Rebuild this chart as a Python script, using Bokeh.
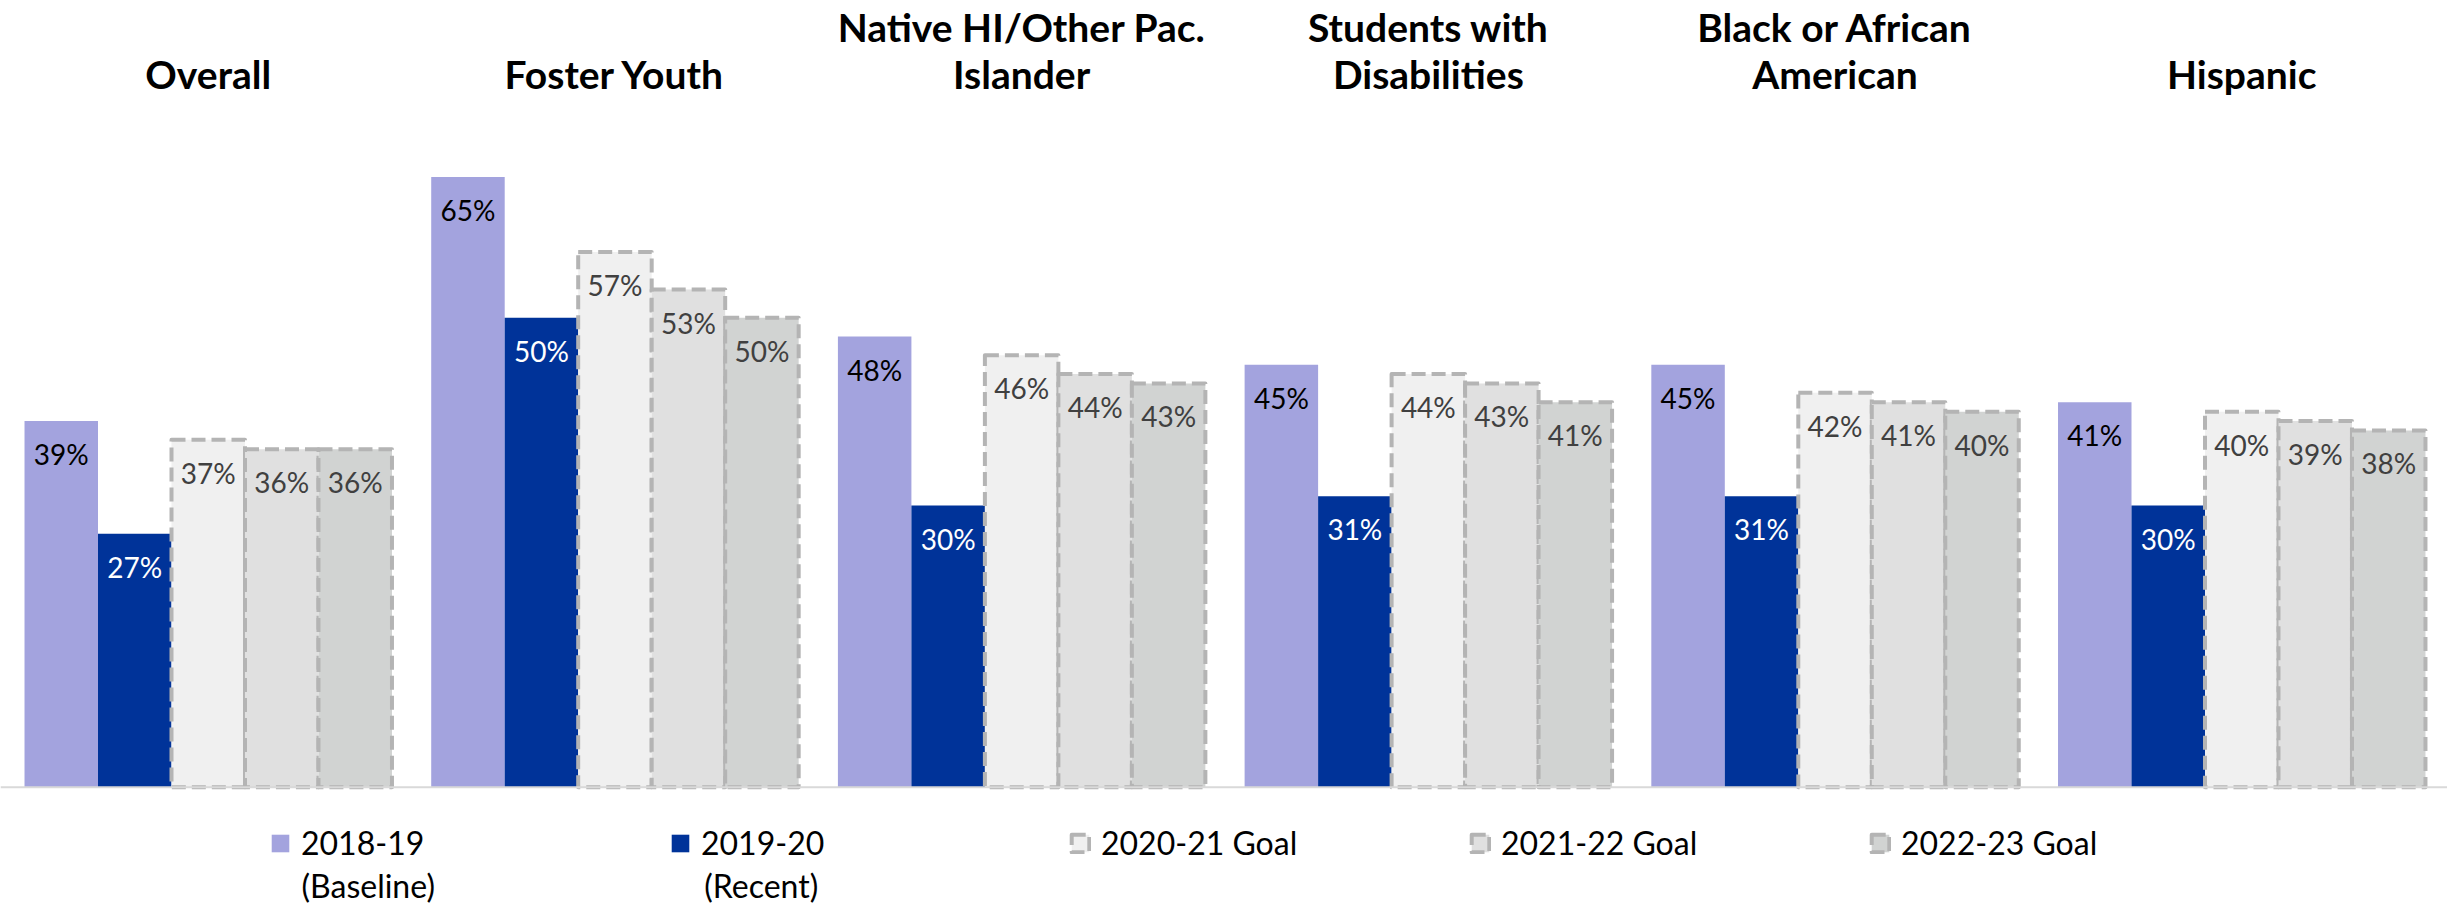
from bokeh.plotting import figure
from bokeh.models import (ColumnDataSource, Range1d, LinearAxis, FixedTicker, Legend,
                          LegendItem, Span, Label)
from bokeh.transform import dodge
from bokeh.core.properties import value
from bokeh.embed import file_html
from bokeh.resources import INLINE

# ---- data ----
categories = ["Overall", "Foster Youth", "Native HI/Other Pac.\nIslander",
              "Students with\nDisabilities", "Black or African\nAmerican", "Hispanic"]
series_names = ["2018-19", "2019-20", "2020-21 Goal", "2021-22 Goal", "2022-23 Goal"]
series_subnames = ["(Baseline)", "(Recent)", "", "", ""]
baseline_1819 = [39, 65, 48, 45, 45, 41]
recent_1920 = [27, 50, 30, 31, 31, 30]
goal_2021 = [37, 57, 46, 44, 42, 40]
goal_2122 = [36, 53, 44, 43, 41, 39]
goal_2223 = [36, 50, 43, 41, 40, 38]

series_values = [baseline_1819, recent_1920, goal_2021, goal_2122, goal_2223]
fills = ["#A3A3DE", "#003399", "#F0F0F0", "#E0E0E0", "#D1D3D2"]
label_colors = ["#000000", "#FFFFFF", "#404040", "#404040", "#404040"]
is_goal = [False, False, True, True, True]

data = dict(idx=list(range(len(categories))))
for k, vals in enumerate(series_values):
    data[f"v{k}"] = vals
    data[f"l{k}"] = [f"{v}%" for v in vals]
src = ColumnDataSource(data)

W = 0.1807
PW, PH = 2447, 905
TOP = 140
BASE = 786.5
PX_PER_PCT = 9.4
X0 = -0.5108
UNIT = 406.7
p = figure(width=PW, height=PH, title=None,
           x_range=Range1d(X0, X0 + PW / UNIT),
           y_range=Range1d(-(PH - BASE) / PX_PER_PCT, (BASE - TOP) / PX_PER_PCT),
           x_axis_location=None, y_axis_location=None,
           toolbar_location=None, output_backend="svg",
           min_border_left=0, min_border_right=0, min_border_top=TOP, min_border_bottom=0,
           outline_line_color=None, background_fill_color="white")
p.xgrid.visible = False
p.ygrid.visible = False

top_axis = LinearAxis(ticker=FixedTicker(ticks=list(range(len(categories)))),
                      major_label_overrides={i: t for i, t in enumerate(categories)},
                      axis_line_color=None, major_tick_line_color=None, minor_tick_line_color=None,
                      major_tick_out=0, major_tick_in=0, minor_tick_out=0, minor_tick_in=0,
                      major_label_standoff=45,
                      major_label_text_font="Lato", major_label_text_font_style="bold",
                      major_label_text_font_size="39px", major_label_text_color="#000000",
                      major_label_text_line_height=1.02)
p.add_layout(top_axis, "above")

p.add_layout(Span(location=0, dimension="width", line_color="#D9D9D9", line_width=2))

items = []
for k in range(5):
    xk = dodge("idx", (k - 2) * W, range=p.x_range)
    if is_goal[k]:
        r = p.vbar(x=xk, top=f"v{k}", bottom=0, width=W, source=src,
                   fill_color=fills[k], line_color="#B4B4B4", line_width=4,
                   line_dash="14 6", line_join="round")
    else:
        r = p.vbar(x=xk, top=f"v{k}", bottom=0, width=W, source=src,
                   fill_color=fills[k], line_color=None)
    p.text(x=xk, y=f"v{k}", text=f"l{k}", source=src, y_offset=33,
           text_font=value("Lato"), text_font_size="28px", text_color=label_colors[k],
           text_align="center", text_baseline="middle")
    items.append(LegendItem(label=series_names[k], renderers=[r]))

ITEM_STEP = 402.75
LEG_X = 269
legend = Legend(items=items, orientation="horizontal", location=(LEG_X, 43),
                label_text_font="Lato", label_text_font_size="32px", label_text_color="#000000",
                label_standoff=10, glyph_width=22, glyph_height=22,
                label_width=263, spacing=105, padding=0, margin=0,
                border_line_color=None, background_fill_alpha=0)
p.add_layout(legend, "center")

for k, sub in enumerate(series_subnames):
    if sub:
        p.add_layout(Label(x=LEG_X + 32 + k * ITEM_STEP, y=20, x_units="screen", y_units="screen",
                           text=sub, text_font="Lato", text_font_size="32px",
                           text_color="#000000", text_align="left", text_baseline="alphabetic"))

open("out.html", "w").write(file_html(p, INLINE))
